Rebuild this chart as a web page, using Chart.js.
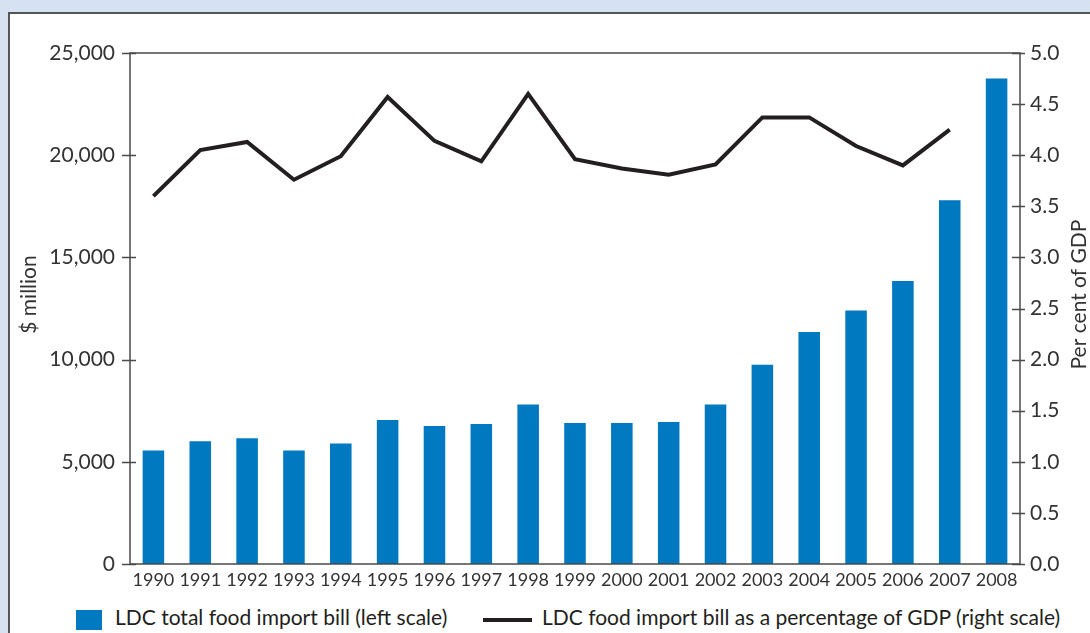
<!DOCTYPE html>
<html>
<head>
<meta charset="utf-8">
<script src="https://cdn.jsdelivr.net/npm/chart.js@4/dist/chart.umd.min.js"></script>
<style>
  html, body { margin: 0; padding: 0; }
  body { width: 1090px; height: 633px; background: #d6e2f1; overflow: hidden; position: relative; font-family: Lato, sans-serif; }
  #panel { position: absolute; left: 8px; top: 12px; width: 1080px; height: 619px; background: #fff; border-top: 2px solid #555; border-left: 2px solid #555; }
  #chart { position: absolute; left: 0; top: 0; }
  #legend { position: absolute; left: 0; top: 588px; width: 1080px; height: 30px; font-size: 21px; color: #231f20; }
  .item { position: absolute; top: 0; height: 30px; line-height: 30px; white-space: nowrap; }
  .swatch { display: inline-block; vertical-align: middle; }
</style>
</head>
<body>
<div id="panel">
  <canvas id="chart" width="1080" height="586"></canvas>
  <div id="legend"></div>
</div>
<script>
var years = ['1990', '1991', '1992', '1993', '1994', '1995', '1996', '1997', '1998', '1999',
             '2000', '2001', '2002', '2003', '2004', '2005', '2006', '2007', '2008'];

// $ million, left scale
var importBill = [5550, 6000, 6150, 5550, 5900, 7050, 6750, 6850, 7800, 6900,
                  6900, 6950, 7800, 9750, 11350, 12400, 13850, 17800, 23750];

// per cent of GDP, right scale (no value for 2008)
var importShareGdp = [3.60, 4.05, 4.13, 3.76, 3.99, 4.57, 4.14, 3.94, 4.60, 3.96,
                      3.87, 3.81, 3.91, 4.37, 4.37, 4.09, 3.90, 4.25, null];

var leftTicks = [0, 5000, 10000, 15000, 20000, 25000];
var rightTicks = [0, 0.5, 1, 1.5, 2, 2.5, 3, 3.5, 4, 4.5, 5];

var barLabel = 'LDC total food import bill (left scale)';
var lineLabel = 'LDC food import bill as a percentage of GDP (right scale)';

var barColor = '#0079c1';
var lineColor = '#231f20';
var axisColor = '#4a4a4a';
var textColor = '#333333';

// plot frame, crossing tick marks and the two axis titles
var framePlugin = {
    id: 'frame',
    afterDatasetsDraw: function (chart) {
        var ctx = chart.ctx;
        var area = chart.chartArea;
        ctx.save();
        ctx.strokeStyle = axisColor;
        ctx.lineWidth = 1.5;
        ctx.strokeRect(area.left, area.top, area.right - area.left, area.bottom - area.top);

        ctx.lineWidth = 1.3;
        ctx.beginPath();
        leftTicks.forEach(function (v) {
            var y = Math.round(chart.scales.y.getPixelForValue(v)) + 0.5;
            ctx.moveTo(area.left - 8, y);
            ctx.lineTo(area.left + 6, y);
        });
        rightTicks.forEach(function (v) {
            var y = Math.round(chart.scales.y1.getPixelForValue(v)) + 0.5;
            ctx.moveTo(area.right - 8, y);
            ctx.lineTo(area.right + 5, y);
        });
        ctx.stroke();
        ctx.restore();
    },
    afterDraw: function (chart) {
        var ctx = chart.ctx;
        var area = chart.chartArea;
        var midY = (area.top + area.bottom) / 2 - 14;
        ctx.save();
        ctx.fillStyle = textColor;
        ctx.font = '21px Lato';
        ctx.textAlign = 'center';
        ctx.textBaseline = 'middle';
        ctx.translate(19, midY);
        ctx.rotate(-Math.PI / 2);
        ctx.fillText('$ million', 0, 0);
        ctx.restore();

        ctx.save();
        ctx.fillStyle = textColor;
        ctx.font = '21px Lato';
        ctx.textAlign = 'center';
        ctx.textBaseline = 'middle';
        ctx.translate(chart.width - 11, midY);
        ctx.rotate(-Math.PI / 2);
        ctx.fillText('Per cent of GDP', 0, 0);
        ctx.restore();
    }
};

var ctx = document.getElementById('chart').getContext('2d');

var chart = new Chart(ctx, {
    type: 'bar',
    data: {
        labels: years,
        datasets: [{
            type: 'line',
            label: lineLabel,
            data: importShareGdp,
            yAxisID: 'y1',
            borderColor: lineColor,
            backgroundColor: lineColor,
            borderWidth: 4,
            pointRadius: 0,
            tension: 0,
            spanGaps: false,
            order: 0
        }, {
            type: 'bar',
            label: barLabel,
            data: importBill,
            yAxisID: 'y',
            backgroundColor: barColor,
            categoryPercentage: 1,
            barPercentage: 0.46,
            order: 1
        }]
    },
    options: {
        responsive: false,
        animation: false,
        layout: { padding: { top: 39, left: 0, right: 0, bottom: 0 } },
        plugins: {
            legend: { display: false },
            tooltip: { enabled: false }
        },
        scales: {
            x: {
                offset: true,
                grid: { display: false, drawTicks: false },
                border: { display: false },
                ticks: {
                    color: textColor,
                    font: { family: 'Lato', size: 18 },
                    padding: 5,
                    maxRotation: 0,
                    autoSkip: false
                },
                afterFit: function (scale) { scale.height = 36; }
            },
            y: {
                position: 'left',
                min: 0,
                max: 25000,
                grid: { display: false, drawTicks: false },
                border: { display: false },
                ticks: {
                    stepSize: 5000,
                    color: textColor,
                    font: { family: 'Lato', size: 21 },
                    padding: 15,
                    callback: function (v) { return v.toLocaleString('en-US'); }
                },
                afterFit: function (scale) { scale.width = 120; }
            },
            y1: {
                position: 'right',
                min: 0,
                max: 5,
                grid: { display: false, drawTicks: false },
                border: { display: false },
                ticks: {
                    stepSize: 0.5,
                    color: textColor,
                    font: { family: 'Lato', size: 21 },
                    padding: 10,
                    callback: function (v) { return v.toFixed(1); }
                },
                afterFit: function (scale) { scale.width = 70; }
            }
        }
    },
    plugins: [framePlugin]
});

// legend built from the dataset labels
var legend = document.getElementById('legend');
legend.innerHTML =
    '<div class="item" style="left:66px"><span class="swatch" style="width:26px;height:20px;background:' + barColor + ';margin-right:13px"></span>' + barLabel + '</div>' +
    '<div class="item" style="left:473px"><span class="swatch" style="width:49px;height:4px;background:' + lineColor + ';margin-right:10px"></span>' + lineLabel + '</div>';
</script>
</body>
</html>
